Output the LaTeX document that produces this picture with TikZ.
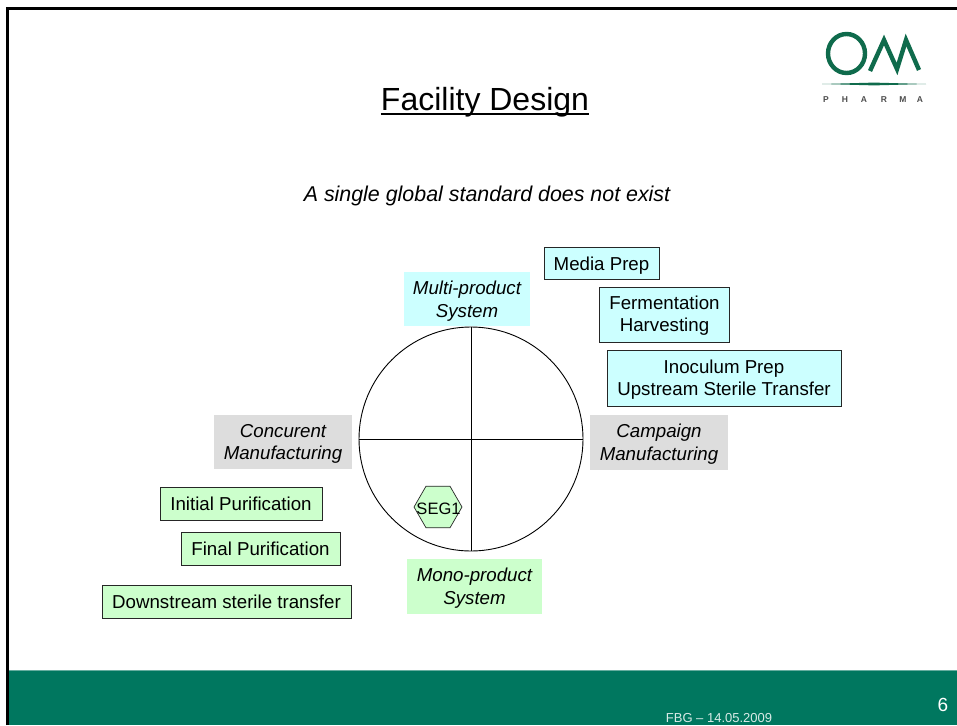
\documentclass[tikz,border=0pt]{standalone}
\usepackage{fontspec}
\setmainfont{Liberation Sans}
\usetikzlibrary{shapes.geometric}
\definecolor{footgreen}{HTML}{00775F}
\definecolor{logogreen}{HTML}{0F6B4C}
\definecolor{boxcyan}{HTML}{CCFFFF}
\definecolor{boxgreen}{HTML}{CCFFCC}
\definecolor{boxgray}{HTML}{DDDDDD}
\tikzstyle{outlinebox}=[draw=black!85,line width=0.9pt,inner sep=0pt,anchor=center]
\tikzstyle{flatbox}=[inner sep=0pt,anchor=center]
\tikzstyle{boxtext}=[align=center,font=\fontsize{18.7}{22.3}\selectfont,inner sep=0pt]
\tikzstyle{flattext}=[align=center,font=\fontsize{18.7}{22.8}\selectfont\itshape,inner sep=0pt,yshift=-2pt]
\tikzstyle{quarterline}=[draw=black,line width=0.9pt]

\begin{document}
\begin{tikzpicture}[x=1pt,y=-1pt]
    \useasboundingbox (0,0) rectangle (957,725);
    \fill[white] (0,0) rectangle (957,725);

    % frame and footer
    \fill[footgreen] (9,670) rectangle (957,725);
    \draw[footgreen!60!white,line width=0.8pt] (9,670.4) -- (957,670.4);
    \draw[black,line width=3pt] (7.5,725) -- (7.5,8.5) -- (957,8.5);
    \node[text=white!85!footgreen,font=\fontsize{13}{14}\selectfont] (footdate) at (719,718.5) {FBG -- 14.05.2009};
    \node[text=white,font=\fontsize{19}{20}\selectfont] (pagenum) at (943,705) {6};

    % logo
    \draw[logogreen,line width=4.4pt] (846.5,53.5) ellipse (18.5pt and 19.5pt);
    \draw[logogreen,line width=4.4pt,line join=miter] (870,71) -- (884,40) -- (897,69) -- (906,40) -- (919,70);
    \fill[logogreen] (822,84) -- (874,82.6) -- (926,84) -- (874,85.4) -- cycle;
    \foreach \pos/\name/\label in {{826/logoP/P}, {845/logoH/H}, {864/logoA/A}, {884/logoR/R}, {903/logoM/M}, {920/logoB/A}}
        \node[text=black!70,font=\fontsize{8.5}{9}\selectfont\bfseries] (\name) at (\pos,100) {\label};

    % headings
    \node[font=\fontsize{32}{36}\selectfont,inner sep=0pt,anchor=base] (title) at (485,110) {Facility Design};
    \draw[black,line width=2pt] (title.base west) ++(0,3.5) -- ++(208,0);
    \node[font=\fontsize{21.4}{24}\selectfont\itshape] (subtitle) at (487,196) {A single global standard does not exist};

    % circle
    \node[circle,draw=black,line width=0.9pt,minimum size=224pt,inner sep=0pt] (wheel) at (471,439) {};
    \path[quarterline] (wheel.north) -- (wheel.south);
    \path[quarterline] (wheel.west) -- (wheel.east);

    \node[regular polygon,regular polygon sides=6,draw=black!85,line width=0.7pt,fill=boxgreen,minimum size=48pt,inner sep=0pt] (segment) at (438,507) {};
    \node[font=\fontsize{16.5}{18}\selectfont] (seglabel) at (438.5,508.5) {SEG1};

    % axis labels
    \foreach \x/\y/\w/\h/\name/\col/\label in {
        467/299/126/54/multi/boxcyan/{Multi-product\\System},
        283/442/138/54/concurrent/boxgray/{Concurent\\Manufacturing},
        659/442.5/138/55/campaign/boxgray/{Campaign\\Manufacturing},
        474.5/586.5/135/55/mono/boxgreen/{Mono-product\\System}}
    {
        \node[flatbox,fill=\col,minimum width=\w pt,minimum height=\h pt] (\name) at (\x,\y) {};
        \node[flattext] (\name text) at (\name) {\label};
    }

    % process steps
    \foreach \x/\y/\w/\h/\dy/\name/\col/\label in {
        601.5/263/115/32/2.5/media/boxcyan/{Media Prep},
        664.5/315/130/55/1/ferment/boxcyan/{Fermentation\\Harvesting},
        724/378.5/234/56/1/inoculum/boxcyan/{Inoculum Prep\\Upstream Sterile Transfer},
        241/503.5/162/33/0/initial/boxgreen/{Initial Purification},
        260.5/548.5/159/33/0/final/boxgreen/{Final Purification},
        226.5/601.5/249/33/0/downstream/boxgreen/{Downstream sterile transfer}}
    {
        \node[outlinebox,fill=\col,minimum width=\w pt,minimum height=\h pt] (\name) at (\x,\y) {};
        \node[boxtext,yshift=-\dy pt] (\name text) at (\name) {\label};
    }
\end{tikzpicture}
\end{document}
